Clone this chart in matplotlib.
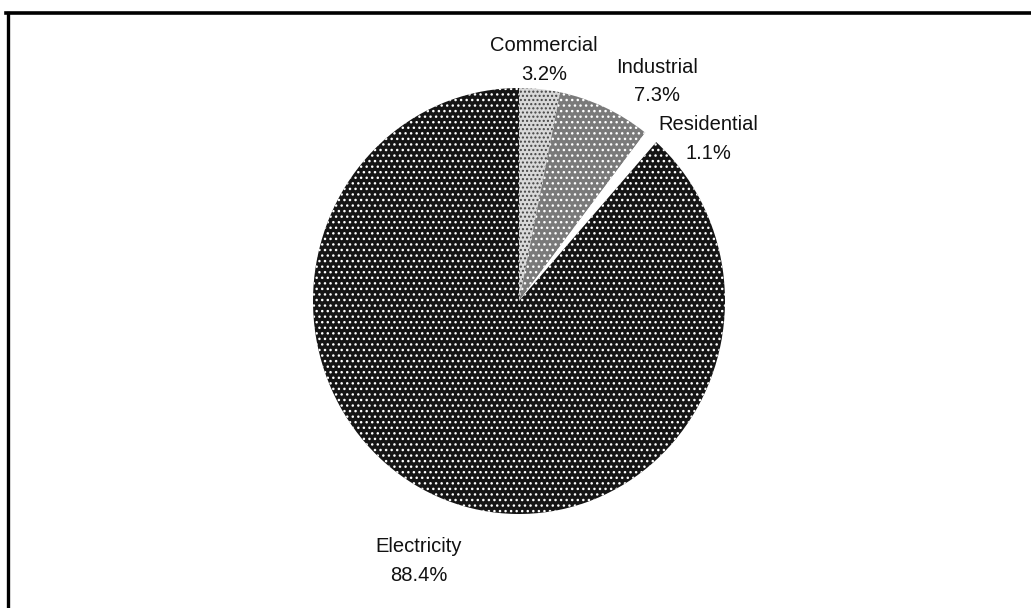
import numpy as np
import matplotlib
matplotlib.use("Agg")
import matplotlib.pyplot as plt
from matplotlib.lines import Line2D

plt.rcParams['font.family'] = ['Liberation Sans', 'DejaVu Sans']

# pie data, clockwise from 12 o'clock
sectors = ['Commercial', 'Industrial', 'Residential', 'Electricity']
shares = [3.2, 7.3, 1.1, 88.4]

# per-wedge looks (face, hatch, hatch colour)
faces = ['#d8d8d8', '#7a7a7a', 'white', '#151515']
hatches = ['....', '...', None, '...']
hatch_cols = ['#444444', 'white', 'white', 'white']
# label block centres in axes units (radius = 1)
label_xy = [(0.12, 1.13), (0.67, 1.03), (0.92, 0.76), (-0.485, -1.22)]

fig = plt.figure(figsize=(10.31, 6.08), dpi=100)
fig.patch.set_facecolor('white')

# scanned page border (only top and left survive the crop)
top = 1 - 13/608
fig.add_artist(Line2D([6/1031, 1.0], [top, top], color='black', lw=2.6))
fig.add_artist(Line2D([8/1031, 8/1031], [0.0, top], color='black', lw=2.4))

ax = fig.add_axes([313/1031, (608 - 514)/608, 412/1031, 426/608])
wedges, texts = ax.pie(shares, labels=[f"{s}\n{v}%" for s, v in zip(sectors, shares)],
                       startangle=90, counterclock=False, radius=1.0,
                       textprops=dict(fontsize=14.5, ha='center', va='center',
                                      linespacing=1.65, color='#111111'))
ax.set_aspect('auto')
ax.set_xlim(-1, 1)
ax.set_ylim(-1, 1)

for w, fc, h, hc, t, xy in zip(wedges, faces, hatches, hatch_cols, texts, label_xy):
    w.set_facecolor(fc)
    w.set_edgecolor(hc)
    w.set_linewidth(0)
    if h:
        w.set_hatch(h)
    t.set_position(xy)
    t.set_horizontalalignment('center')

plt.savefig('out.png', dpi=100, facecolor='white')
